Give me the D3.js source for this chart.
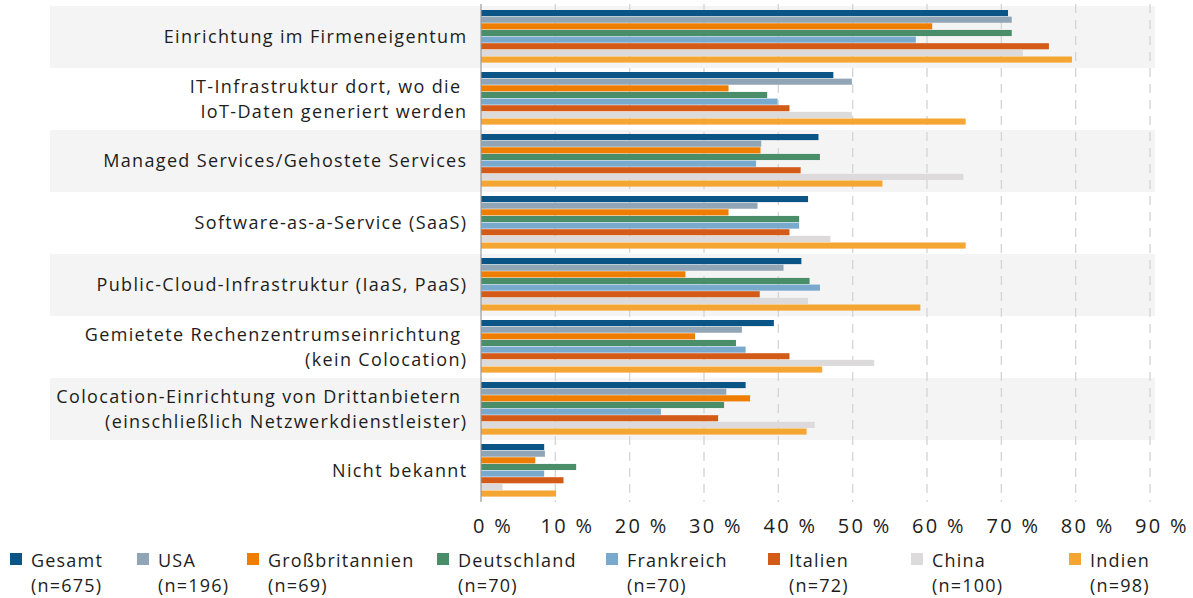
<!DOCTYPE html>
<html>
<head>
<meta charset="utf-8">
<script src="https://cdn.jsdelivr.net/npm/d3@7"></script>
<style>
  body { margin: 0; background: #fff; }
  svg text { font-family: "Open Sans", "DejaVu Sans", sans-serif; fill: #1d1d1b; }
</style>
</head>
<body>
<div id="chart"></div>
<script>
// categories (one line per array entry)
const categories = [
  ["Einrichtung im Firmeneigentum"],
  ["IT-Infrastruktur dort, wo die ", "IoT-Daten generiert werden"],
  ["Managed Services/Gehostete Services"],
  ["Software-as-a-Service (SaaS)"],
  ["Public-Cloud-Infrastruktur (IaaS, PaaS)"],
  ["Gemietete Rechenzentrumseinrichtung ", "(kein Colocation)"],
  ["Colocation-Einrichtung von Drittanbietern ", "(einschließlich Netzwerkdienstleister)"],
  ["Nicht bekannt"]
]

const seriesNames = ["Gesamt", "USA", "Großbritannien", "Deutschland", "Frankreich", "Italien", "China", "Indien"]
const sampleSizes = ["(n=675)", "(n=196)", "(n=69)", "(n=70)", "(n=70)", "(n=72)", "(n=100)", "(n=98)"]
const colors = ["#0b5486", "#90a6b7", "#ef7d00", "#4a8e69", "#79aacd", "#d45a17", "#dcdada", "#f4a532"]

// values in percent, one per category
const gesamt = [70.9, 47.4, 45.4, 44.0, 43.1, 39.4, 35.6, 8.5]
const usa = [71.4, 49.9, 37.7, 37.2, 40.7, 35.1, 33.0, 8.6]
const grossbritannien = [60.7, 33.3, 37.6, 33.3, 27.5, 28.8, 36.2, 7.3]
const deutschland = [71.4, 38.5, 45.6, 42.8, 44.2, 34.3, 32.7, 12.8]
const frankreich = [58.5, 39.9, 37.0, 42.8, 45.6, 35.6, 24.2, 8.5]
const italien = [76.4, 41.5, 43.0, 41.5, 37.5, 41.5, 31.9, 11.1]
const china = [72.9, 49.9, 64.9, 47.0, 44.0, 52.9, 44.9, 2.9]
const indien = [79.5, 65.2, 54.0, 65.2, 59.1, 45.9, 43.8, 10.1]

const tickValues = [0, 10, 20, 30, 40, 50, 60, 70, 80, 90]

const allValues = [gesamt, usa, grossbritannien, deutschland, frankreich, italien, china, indien]

// set dimensions
const width = 1193
const height = 598

const svg = d3.select("#chart")
  .append("svg")
  .attr("width", width)
  .attr("height", height)

const catKeys = categories.map((c, i) => i)

const x = d3.scaleLinear()
  .domain([0, 90])
  .range([481, 1150])

const y = d3.scaleBand()
  .domain(catKeys)
  .range([6, 502])

const yInner = d3.scaleBand()
  .domain(seriesNames)
  .range([4, y.bandwidth() - 5.4])
  .paddingInner(0.08)

// alternating background bands
svg.append("g")
  .selectAll("rect")
  .data(catKeys.filter(i => i % 2 == 0))
  .enter()
  .append("rect")
  .attr("x", 50)
  .attr("y", d => y(d))
  .attr("width", 1155 - 50)
  .attr("height", y.bandwidth())
  .attr("fill", "#f4f4f4")

// dashed grid lines
svg.append("g")
  .selectAll("line")
  .data(tickValues.slice(1))
  .enter()
  .append("line")
  .attr("x1", d => x(d))
  .attr("x2", d => x(d))
  .attr("y1", 4)
  .attr("y2", 502)
  .attr("stroke", "#d6d6d6")
  .attr("stroke-width", 1.4)
  .attr("stroke-dasharray", "9,7")

// bars
const groups = svg.append("g")
  .selectAll("g")
  .data(catKeys)
  .enter()
  .append("g")
  .attr("transform", d => "translate(0," + y(d) + ")")

groups.selectAll("rect")
  .data(ci => seriesNames.map((s, si) => ({ s: s, si: si, v: allValues[si][ci] })))
  .enter()
  .append("rect")
  .attr("x", x(0))
  .attr("y", d => yInner(d.s))
  .attr("width", d => x(d.v) - x(0))
  .attr("height", yInner.bandwidth())
  .attr("fill", d => colors[d.si])

// category labels
const labels = svg.append("g")
  .selectAll("text")
  .data(catKeys)
  .enter()
  .append("text")
  .attr("text-anchor", "end")
  .attr("font-size", 18)
  .attr("letter-spacing", 1.35)
  .style("white-space", "pre")
  .attr("x", 467.5)
  .attr("y", d => y(d) + y.bandwidth() / 2)

labels.selectAll("tspan")
  .data(d => categories[d].map((line, i) => ({ line: line, i: i, n: categories[d].length })))
  .enter()
  .append("tspan")
  .attr("x", 467.5)
  .attr("dy", d => d.i == 0 ? (d.n == 1 ? "0.35em" : (0.35 - 0.68) + "em") : "1.36em")
  .text(d => d.line)

// y axis line
svg.append("line")
  .attr("x1", x(0))
  .attr("x2", x(0))
  .attr("y1", 4)
  .attr("y2", 502)
  .attr("stroke", "#9a9a9a")
  .attr("stroke-width", 1.2)

// x axis tick labels (sit a little right of their grid lines, like the original)
const xAxis = d3.axisBottom(x)
  .tickValues(tickValues)
  .tickFormat(d => d + " %")
  .tickSize(0)
  .tickPadding(0)

const axisG = svg.append("g")
  .attr("transform", "translate(11.5,519)")
  .call(xAxis)

axisG.select(".domain").remove()
axisG.selectAll("text")
  .attr("font-size", 20)
  .attr("letter-spacing", 2.3)
  .attr("font-family", null)
  .style("fill", "#1d1d1b")

// legend
const legendX = [10, 137, 247, 437, 606, 768, 911, 1069]

const legend = svg.append("g")
  .selectAll("g")
  .data(seriesNames)
  .enter()
  .append("g")
  .attr("transform", (d, i) => "translate(" + legendX[i] + ",553)")

legend.append("rect")
  .attr("width", 12)
  .attr("height", 12)
  .attr("fill", (d, i) => colors[i])

legend.append("text")
  .attr("x", 21)
  .attr("y", 14)
  .attr("font-size", 18)
  .attr("letter-spacing", 1.2)
  .text(d => d)

legend.append("text")
  .attr("x", 21)
  .attr("y", 39)
  .attr("font-size", 18)
  .attr("letter-spacing", 1.2)
  .text((d, i) => sampleSizes[i])
</script>
</body>
</html>
